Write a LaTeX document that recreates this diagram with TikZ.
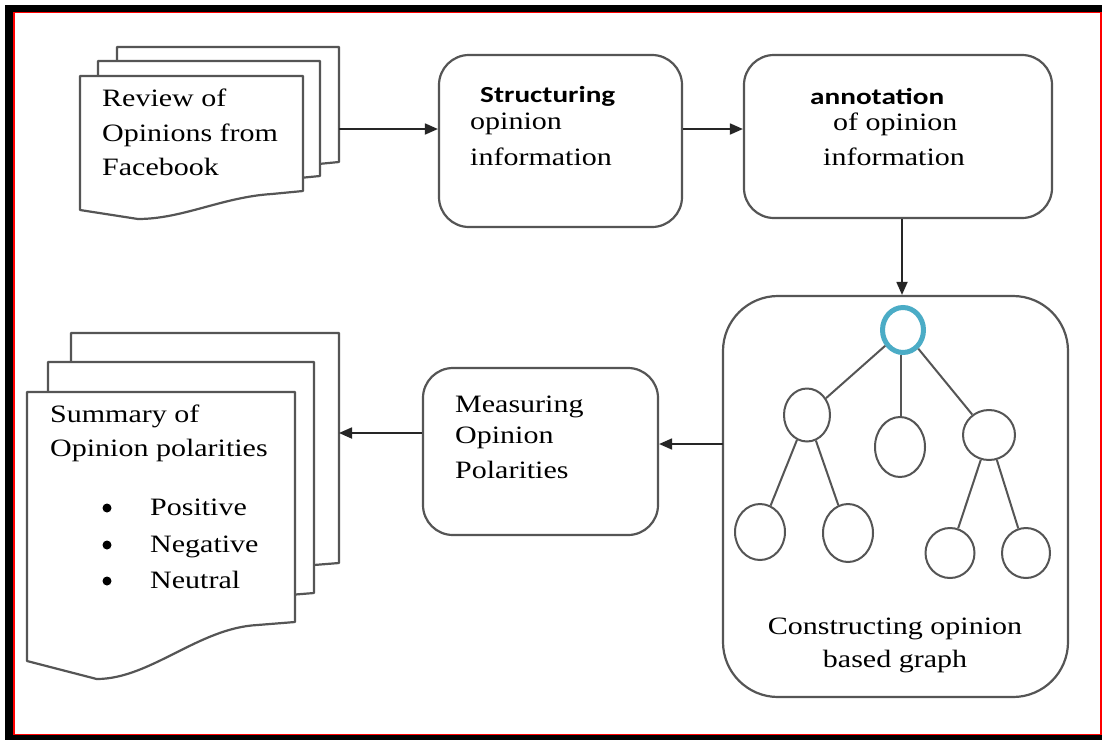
\documentclass[tikz,border=0pt]{standalone}
\usepackage{fontspec}
\setmainfont{Liberation Serif}
\newfontfamily\rs[FakeStretch=1.2]{Liberation Serif}
\newfontfamily\bs[FakeStretch=1.27]{Carlito}
\usetikzlibrary{arrows.meta,shapes.geometric}
\definecolor{lc}{HTML}{555555}
\definecolor{rootc}{HTML}{4BACC6}
\newcommand{\docpage}[6]{% x y w hr hl dip
  \path[ln,fill=white] (#1,#2) -- (#1+#3,#2) -- (#1+#3,#2+#4)
    -- (#1+0.86*#3,#2+#4+3)
    .. controls (#1+0.64*#3,#2+#4+6) and (#1+0.46*#3,#2+#5+#6) .. (#1+0.26*#3,#2+#5+#6)
    -- (#1,#2+#5) -- cycle;}
\begin{document}
\begin{tikzpicture}[x=1pt,y=-1pt,
  ln/.style={draw=lc,line width=2.2pt,line join=round},
  box/.style={ln,rectangle,rounded corners=30pt,fill=white,inner sep=0pt},
  arr/.style={draw=black!85,line width=1.8pt,-{Triangle[length=13pt,width=11pt]}},
  txt/.style={anchor=base west,inner sep=0pt,font=\rs\fontsize{25}{30}\selectfont,text=black},
  ctxt/.style={txt,anchor=base},
  btxt/.style={anchor=base west,inner sep=0pt,font=\bs\bfseries\fontsize{23}{28}\selectfont,text=black},
  gn/.style={draw=lc,line width=2pt,ellipse,inner sep=0pt,fill=white},
  bul/.style={circle,fill=black,inner sep=0pt,minimum size=9pt}]
\useasboundingbox (0,0) rectangle (1103,740);
% frame
\fill[black] (5,5) rectangle (1102,740);
\draw[red,line width=1.6pt,fill=white] (14,12.5) rectangle (1101,734.3);

% document stack 1
\docpage{117}{47}{222}{115}{134}{9}
\docpage{98}{61}{222}{115}{134}{9}
\docpage{80}{76}{223}{115}{134}{9}
\coordinate (d1) at (339,129);
\node[txt] (t1) at (102,106) {Review of};
\node[txt] (t2) at (102,141) {Opinions from};
\node[txt] (t3) at (102,175) {Facebook};

% box 1
\node[box,minimum width=243pt,minimum height=172pt] (box1) at (560.5,141) {};
\node[btxt] (b1a) at (480,102) {Structuring};
\node[txt] (b1b) at (470,129) {opinion};
\node[txt] (b1c) at (470,165) {information};

% box 2
\node[box,minimum width=308pt,minimum height=163pt] (box2) at (898,136.5) {};
\node[btxt] (b2a) at (810,104) {annotation};
\node[txt] (b2b) at (833,130) {of opinion};
\node[txt] (b2c) at (823,165) {information};

% graph box
\node[box,rounded corners=55pt,minimum width=345pt,minimum height=401pt] (graph) at (895.5,496.5) {};
\node[draw=rootc,line width=5pt,ellipse,inner sep=0pt,minimum width=41pt,minimum height=45pt] (root) at (903,330) {};
\node[gn,minimum width=46pt,minimum height=53pt] (L) at (807,415) {};
\node[gn,minimum width=50pt,minimum height=60pt] (M) at (900,447) {};
\node[gn,minimum width=52pt,minimum height=50pt] (R) at (989,435) {};
\node[gn,minimum width=50pt,minimum height=56pt] (LL) at (760,532) {};
\node[gn,minimum width=50pt,minimum height=58pt] (LR) at (848,533) {};
\node[gn,minimum width=49pt,minimum height=50pt] (RL) at (950,553) {};
\node[gn,minimum width=48pt,minimum height=50pt] (RR) at (1026,553) {};
\draw[ln,line width=2pt] (root) -- (L);
\draw[ln,line width=2pt] ([xshift=-2pt]root.south) -- ([xshift=1pt]M.north);
\draw[ln,line width=2pt] (root) -- (R);
\draw[ln,line width=2pt] (L) -- (LL);
\draw[ln,line width=2pt] (L) -- (LR);
\draw[ln,line width=2pt] (R) -- (RL);
\draw[ln,line width=2pt] (R) -- (RR);
\node[ctxt] (g1) at (895,634) {Constructing opinion};
\node[ctxt] (g2) at (895,667) {based graph};

% measuring box
\node[box,minimum width=235pt,minimum height=167pt] (meas) at (540.5,451.5) {};
\node[txt] (m1) at (455,412) {Measuring};
\node[txt] (m2) at (455,443) {Opinion};
\node[txt] (m3) at (455,478) {Polarities};

% document stack 2
\docpage{71}{333}{268}{230}{269}{18}
\docpage{48}{362}{266}{231}{269}{18}
\docpage{27}{392}{268}{230}{269}{18}
\coordinate (d2) at (339,433);
\node[txt] (s1) at (50,422) {Summary of};
\node[txt] (s2) at (50,456) {Opinion polarities};
\node[bul] (u1) at (107,508) {};
\node[bul] (u2) at (107,545) {};
\node[bul] (u3) at (107,581) {};
\node[txt] (s3) at (150,515) {Positive};
\node[txt] (s4) at (150,552) {Negative};
\node[txt] (s5) at (150,588) {Neutral};

% connectors
\coordinate (a3) at (723,444);
\draw[arr] (d1) -- (d1 -| box1.west);
\draw[arr] (box1.east |- d1) -- (box2.west |- d1);
\draw[arr] ([xshift=4pt]box2.south) -- ([xshift=4pt]box2.south |- graph.north);
\draw[arr] (a3) -- (a3 -| meas.east);
\draw[arr] (meas.west |- d2) -- (d2);
\end{tikzpicture}
\end{document}
